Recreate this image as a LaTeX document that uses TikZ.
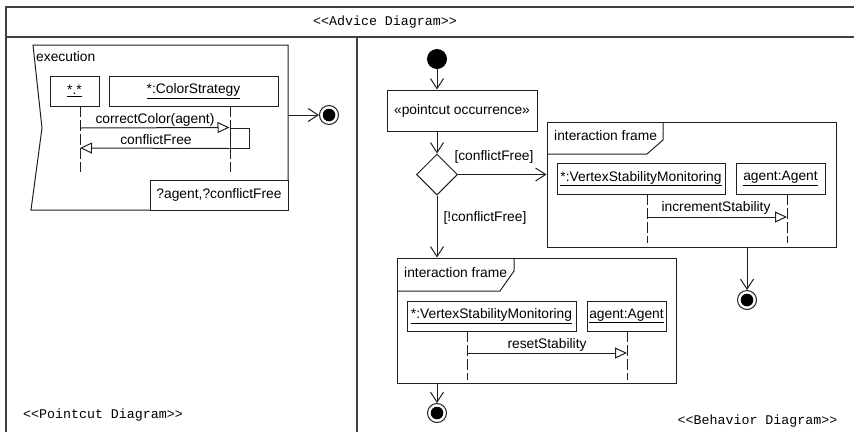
\documentclass[tikz,border=0pt]{standalone}
\usepackage{fontspec}
\setmainfont{Liberation Sans}
\setmonofont{Liberation Mono}
\usetikzlibrary{arrows.meta,shapes.geometric}
\begin{document}
\begin{tikzpicture}[x=1pt,y=-1pt,
  ink/.style={draw=black!88, line width=1pt},
  outer/.style={draw=black!75, line width=1.4pt},
  txt/.style={font=\fontsize{13.8}{16}\selectfont, inner sep=0pt, text=black},
  mono/.style={font=\ttfamily\fontsize{13.3}{16}\selectfont, inner sep=0pt, text=black},
  objbox/.style={ink, rectangle, inner sep=0pt, fill=white, font=\fontsize{13.8}{16}\selectfont},
  flow/.style={ink, -{Straight Barb[length=10pt,width=13pt]}},
  msg/.style={ink, -{Triangle[open,length=12pt,width=11pt]}},
  life/.style={ink, dash pattern=on 11pt off 3pt},
  finalnode/.style={circle, ink, fill=white, minimum size=19pt, inner sep=0pt,
    path picture={\fill[black] (path picture bounding box.center) circle (6.3pt);}},
  initnode/.style={circle, fill=black, minimum size=20pt, inner sep=0pt},
  decision/.style={diamond, ink, aspect=1, minimum size=41pt, inner sep=0pt},
]
\useasboundingbox (0,0) rectangle (854,432);

% outer frame with header and the two compartments
\draw[outer] (6,432) -- (6,7) -- (854,7);
\draw[outer] (6,37) -- (854,37);
\draw[outer] (357,37) -- (357,432);
\node[mono] (title) at (385,22) {<<Advice Diagram>>};
\node[mono] (pclabel) at (103,415) {<<Pointcut Diagram>>};
\node[mono] (bhlabel) at (757.5,421) {<<Behavior Diagram>>};

% ---------- pointcut: execution frame ----------
\node[inner sep=0pt, minimum width=257pt, minimum height=165pt] (exec) at (159.5,127.5) {};
\draw[ink] (33,45) -- (288,45) -- (288,210) -- (31,210) -- (42,128) -- cycle;
\node[txt, anchor=west] (exectitle) at (36,57) {execution};

\coordinate (ll1top) at (80,106);
\coordinate (ll1bot) at (80,172);
\coordinate (ll2top) at (230,106);
\coordinate (ll2bot) at (230,172);
\draw[life] (ll1top) -- (ll1bot);
\draw[life] (ll2top) -- (ll2bot);

\node[objbox, minimum width=49pt, minimum height=30pt] (any) at (74.5,91) {\underline{*.*}};
\node[objbox, minimum width=169pt, minimum height=30pt] (strat) at (193.5,91) {\underline{*:ColorStrategy}};
\node[objbox, minimum width=19pt, minimum height=20pt] (act) at (239.5,138) {};

\coordinate (m1start) at (80,128);
\coordinate (m2end) at (80,148);
\draw[msg] (m1start) -- (act.north west);
\draw[msg] (act.south west) -- (m2end);
\node[txt] (m1lbl) at (155,120) {correctColor(agent)};
\node[txt] (m2lbl) at (156,140) {conflictFree};

\node[objbox, minimum width=138pt, minimum height=30pt] (params) at (219,195) {?agent,?conflictFree};

\node[finalnode] (fin1) at (329,115) {};
\draw[flow] (exec.east |- fin1) -- (fin1);

% ---------- behavior: activity ----------
\node[initnode] (init) at (437,59) {};
\node[objbox, minimum width=150pt, minimum height=41pt] (pc) at (462,110.5) {«pointcut occurrence»};
\node[decision] (dec) at (437,174.5) {};
\draw[flow] (init) -- (init |- pc.north);
\draw[flow] (pc.south -| dec) -- (dec);

% interaction frame for the conflict-free branch
\node[ink, rectangle, minimum width=289pt, minimum height=125pt, inner sep=0pt] (f1) at (691.5,184.5) {};
\draw[ink] (547,154) -- (647,154) -- (663,140) -- (663,122);
\node[txt, anchor=west] (f1title) at (554,136) {interaction frame};
\coordinate (l3top) at (647,194);
\coordinate (l3bot) at (647,243);
\coordinate (l4top) at (787,194);
\coordinate (l4bot) at (787,243);
\draw[life] (l3top) -- (l3bot);
\draw[life] (l4top) -- (l4bot);
\node[objbox, minimum width=168pt, minimum height=31pt] (vsm1) at (641,178.5) {\underline{*:VertexStabilityMonitoring}};
\node[objbox, minimum width=89pt, minimum height=31pt] (ag1) at (780.5,178.5) {\underline{agent:Agent}};
\coordinate (inc1) at (647,217);
\coordinate (inc2) at (787,217);
\draw[msg] (inc1) -- (inc2);
\node[txt] (inclbl) at (716,208) {incrementStability};

\draw[flow] (dec.east) -- (dec.east -| f1.west);
\node[txt] (g1) at (494,157) {[conflictFree]};

\node[finalnode] (fin2) at (747,300) {};
\draw[flow] (f1.south -| fin2) -- (fin2);

% interaction frame for the other branch
\node[ink, rectangle, minimum width=279pt, minimum height=125pt, inner sep=0pt] (f2) at (536.5,320.5) {};
\draw[ink] (397,291) -- (500,291) -- (514,271) -- (514,258);
\node[txt, anchor=west] (f2title) at (404,273) {interaction frame};
\coordinate (l5top) at (467,331);
\coordinate (l5bot) at (467,380);
\coordinate (l6top) at (627,331);
\coordinate (l6bot) at (627,380);
\draw[life] (l5top) -- (l5bot);
\draw[life] (l6top) -- (l6bot);
\node[objbox, minimum width=169pt, minimum height=30pt] (vsm2) at (491.5,316) {\underline{*:VertexStabilityMonitoring}};
\node[objbox, minimum width=79pt, minimum height=30pt] (ag2) at (626.5,316) {\underline{agent:Agent}};
\coordinate (rs1) at (467,353);
\coordinate (rs2) at (627,353);
\draw[msg] (rs1) -- (rs2);
\node[txt] (rslbl) at (547,345) {resetStability};

\draw[flow] (dec.south) -- (dec.south |- f2.north);
\node[txt] (g2) at (485,218) {[!conflictFree]};

\node[finalnode] (fin3) at (437,413) {};
\draw[flow] (f2.south -| fin3) -- (fin3);
\end{tikzpicture}
\end{document}
